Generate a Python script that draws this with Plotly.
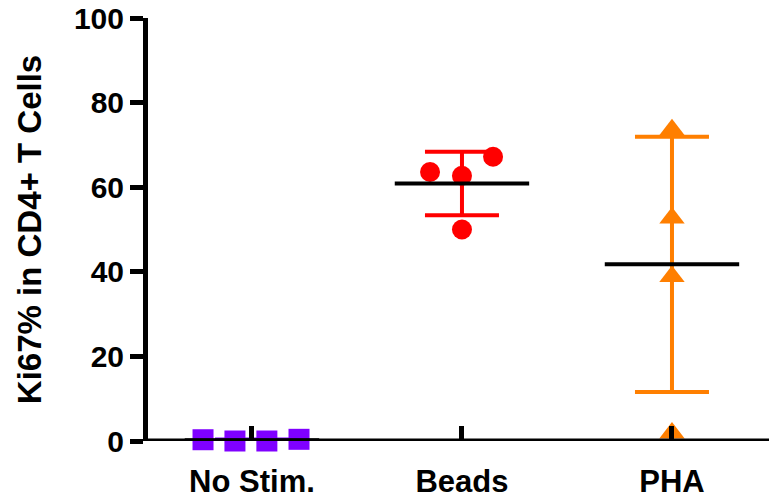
import numpy as np
import plotly.graph_objects as go

# Ki67+ fraction of CD4+ T cells per donor, by stimulation condition
categories = ["No Stim.", "Beads", "PHA"]
no_stim = [0.3, 0.0, 0.0, 0.4]
beads = [63.6, 62.7, 67.2, 50.0]
pha = [73.6, 52.7, 38.9, 1.9]
y_ticks = [0, 20, 40, 60, 80, 100]

groups = [no_stim, beads, pha]
colors = ["#7F00FF", "#FF0000", "#FF7F00"]
symbols = ["square", "circle", "triangle-up"]
sizes = [21, 20, 22]
# horizontal scatter of the individual points around each category
spread = [[-0.233, -0.081, 0.071, 0.224], [-0.152, 0.0, 0.148, 0.0], [0.0, 0.0, 0.0, 0.0]]

FONT = "Liberation Sans, Arial, sans-serif"
AXIS_W = 5
fig = go.Figure()

for i, vals in enumerate(groups):
    arr = np.asarray(vals, dtype=float)
    mean = arr.mean()
    sd = arr.std(ddof=1)

    # mean ± SD error bar
    fig.add_trace(go.Scatter(
        x=[i], y=[mean], mode="markers",
        marker=dict(size=1, color="rgba(0,0,0,0)"),
        error_y=dict(type="data", array=[sd], symmetric=True,
                     color=colors[i], thickness=4, width=37),
        cliponaxis=False, showlegend=False, hoverinfo="skip"))

    # individual donors
    fig.add_trace(go.Scatter(
        x=[i + d for d in spread[i]], y=vals, mode="markers",
        marker=dict(symbol=symbols[i], size=sizes[i], color=colors[i],
                    line=dict(width=0)),
        cliponaxis=False, showlegend=False))

    # mean line
    fig.add_trace(go.Scatter(
        x=[i - 0.32, i + 0.32], y=[mean, mean], mode="lines",
        line=dict(color="black", width=4),
        cliponaxis=False, showlegend=False, hoverinfo="skip"))

# baseline drawn at y = 0, on top of the points
fig.add_shape(type="line", xref="paper", yref="y", x0=-0.006, x1=1, y0=0, y1=0,
              line=dict(color="black", width=AXIS_W), layer="above")

fig.update_layout(
    width=771, height=501,
    margin=dict(l=148, r=2, t=18, b=60),
    plot_bgcolor="white", paper_bgcolor="white",
    font=dict(family=FONT, color="black", size=30, weight="bold"),
    xaxis=dict(
        range=[-0.495, 2.462], tickmode="array", tickvals=[0, 1, 2],
        ticktext=categories, ticks="inside", ticklen=15, tickwidth=AXIS_W,
        tickcolor="black", showline=False, automargin=False,
        showgrid=False, zeroline=False, ticklabelstandoff=19,
        tickfont=dict(family=FONT, size=31, weight="bold"),
    ),
    yaxis=dict(
        range=[0, 100], tickmode="array", tickvals=y_ticks,
        ticks="outside", ticklen=13, tickwidth=AXIS_W, tickcolor="black",
        showline=True, linewidth=AXIS_W, linecolor="black",
        showgrid=False, zeroline=False,
        tickfont=dict(family=FONT, size=30, weight="bold"),
        title=dict(text="Ki67% in CD4+ T Cells", standoff=24,
                   font=dict(family=FONT, size=33, weight="bold")),
    ),
)

fig.write_html("out.html")
